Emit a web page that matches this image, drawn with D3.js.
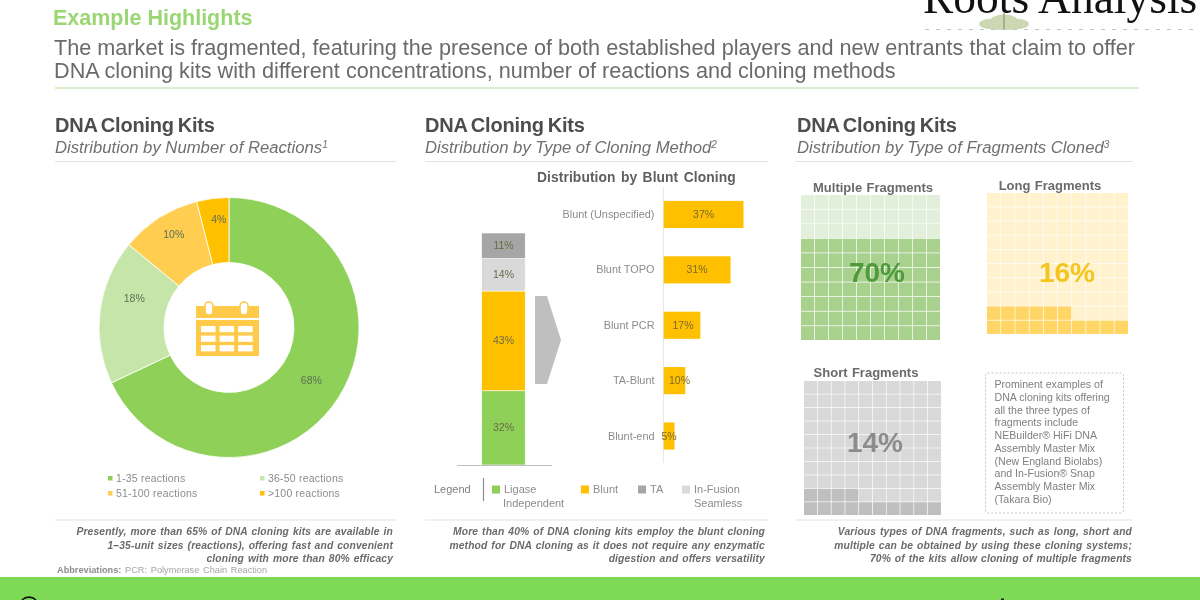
<!DOCTYPE html>
<html><head><meta charset="utf-8">
<script src="https://cdn.jsdelivr.net/npm/d3@7"></script>
<style>
html,body{margin:0;padding:0;background:#fff;overflow:hidden}
svg{display:block;filter:blur(0.55px);font-family:"Liberation Sans",Arial,sans-serif}
</style></head><body>
<svg id="c" width="1200" height="600"></svg>
<script>
// ---- data ----
const reactionCategories = ["1-35 reactions","36-50 reactions","51-100 reactions",">100 reactions"];
const reactionValues = [68,18,10,4];
const methodCategories = ["Ligase Independent","Blunt","In-Fusion Seamless","TA"];
const methodValues = [32,43,14,11];
const bluntCategories = ["Blunt (Unspecified)","Blunt TOPO","Blunt PCR","TA-Blunt","Blunt-end"];
const bluntValues = [37,31,17,10,5];
const fragmentCategories = ["Multiple Fragments","Long Fragments","Short Fragments"];
const fragmentValues = [70,16,14];
const headlineLines = ["The market is fragmented, featuring the presence of both established players and new entrants that claim to offer","DNA cloning kits with different concentrations, number of reactions and cloning methods"];
const panelSubtitles = ["Distribution by Number of Reactions","Distribution by Type of Cloning Method","Distribution by Type of Fragments Cloned"];
const noteLines = [
 ["Presently, more than 65% of DNA cloning kits are available in","1–35-unit sizes (reactions), offering fast and convenient","cloning with more than 80% efficacy"],
 ["More than 40% of DNA cloning kits employ the blunt cloning","method for DNA cloning as it does not require any enzymatic","digestion and offers versatility"],
 ["Various types of DNA fragments, such as long, short and","multiple can be obtained by using these cloning systems;","70% of the kits allow cloning of multiple fragments"]];
const boxLines = ["Prominent examples of","DNA cloning kits offering","all the three types of","fragments include","NEBuilder® HiFi DNA","Assembly Master Mix","(New England Biolabs)","and In-Fusion® Snap","Assembly Master Mix","(Takara Bio)"];

// ---- styles ----
const reactionColors = ["#8fd158","#c6e6a9","#ffcd4f","#ffc000"];
const methodColors = ["#8fd158","#ffc000","#d9d9d9","#a6a6a6"];
const TXT="#595959";

const svg = d3.select("#c");
function text(s,x,y,o={}){
  const t = svg.append("text").attr("x",x).attr("y",y).text(s)
    .attr("font-size",o.size||11).attr("fill",o.fill||TXT)
    .attr("font-weight",o.weight||null).attr("font-style",o.style||null)
    .attr("text-anchor",o.anchor||"start");
  if(o.family) t.attr("font-family",o.family);
  if(o.ws!=null) t.attr("word-spacing",o.ws);
  if(o.ls!=null) t.attr("letter-spacing",o.ls);
  return t;
}
function rule(x1,x2,y,c,w){svg.append("line").attr("x1",x1).attr("x2",x2).attr("y1",y).attr("y2",y).attr("stroke",c).attr("stroke-width",w||1.2);}

// ---- header ----
text("Example Highlights",53,24.5,{size:21.5,weight:"bold",fill:"#9ad673"});
headlineLines.forEach((l,i)=>text(l,54,55+i*23,{size:21.65,fill:"#6a6a6a"}));
rule(55,1139,88,"#cfeabd",1.6);

// logo
text("Roots Analysis",923,13,{size:45.5,family:"Liberation Serif",fill:"#111"});
[[990,24,11,5],[1004,21,14,6.5],[1018,24,11,5],[1004,26,22,4]].forEach(e=>
  svg.append("ellipse").attr("cx",e[0]).attr("cy",e[1]).attr("rx",e[2]).attr("ry",e[3]).attr("fill","#cdd8b2"));
svg.append("line").attr("x1",1004).attr("x2",1004).attr("y1",13).attr("y2",30).attr("stroke","#7f8b5f");
svg.append("line").attr("x1",925).attr("x2",1200).attr("y1",29.5).attr("y2",29.5).attr("stroke","#c4c4c4").attr("stroke-dasharray","4 7");

// panel heads
const panelX=[55,425,797], ruleSpan=[[55,396],[425,768],[795,1133]], sups=["1","2","3"];
panelX.forEach((x,i)=>{
  text("DNA Cloning Kits",x,132,{size:20,weight:"bold",fill:"#4d4d4d",ls:-0.2,ws:-1.5});
  const t=text(panelSubtitles[i],x,153,{size:16.7,style:"italic",fill:"#6f6f6f"});
  t.append("tspan").attr("dy",-5).attr("font-size",10).text(sups[i]);
  rule(ruleSpan[i][0],ruleSpan[i][1],161.5,"#e3e3e3");
  rule(ruleSpan[i][0],ruleSpan[i][1],520,"#e3e3e3");
  noteLines[i].forEach((l,j)=>text(l,[393,765,1132][i],535+j*13.7,{size:10.3,weight:"bold",style:"italic",anchor:"end",fill:"#6a6a6a",ls:0.14,ws:0.9}));
});
const ab=text("Abbreviations:",57,573,{size:9.2,weight:"bold",fill:"#8c8c8c"});
ab.append("tspan").attr("font-weight","normal").attr("fill","#a6a6a6").attr("word-spacing",1.2).text(" PCR: Polymerase Chain Reaction");

// ---- donut ----
const cx=229,cy=327.5,R=130,r=65;
const pie=d3.pie().sort(null)(reactionValues);
const arc=d3.arc().innerRadius(r).outerRadius(R);
const donut=svg.append("g").attr("transform",`translate(${cx},${cy})`);
donut.selectAll("path").data(pie).join("path").attr("d",arc)
  .attr("fill",(d,i)=>reactionColors[i]).attr("stroke","#fff").attr("stroke-width",0.8);
const donutNudge=[[0,1],[2,-17],[-3,-11],[2,-11]];
donut.selectAll("text").data(pie).join("text")
  .attr("x",(d,i)=>arc.centroid(d)[0]+donutNudge[i][0])
  .attr("y",(d,i)=>arc.centroid(d)[1]+donutNudge[i][1]+3.5)
  .attr("text-anchor","middle").attr("font-size",10.5).attr("fill","#5f6f55")
  .text(d=>d.value+"%");

// calendar icon
const ICON="#ffc94a";
const icon=svg.append("g").attr("fill",ICON);
icon.append("rect").attr("x",196).attr("y",306).attr("width",63).attr("height",12);
icon.append("rect").attr("x",196).attr("y",320).attr("width",63).attr("height",36);
[209,244].forEach(x=>{
  icon.append("rect").attr("x",x-4).attr("y",302).attr("width",8).attr("height",13).attr("rx",4).attr("fill","#fff").attr("stroke",ICON).attr("stroke-width",1.6);
});
d3.range(3).forEach(row=>d3.range(3).forEach(col=>{
  icon.append("rect").attr("x",201+col*18.6).attr("y",326+row*9.6).attr("width",14.5).attr("height",6.2).attr("fill","#fff");
}));

// donut legend
const legX=[110,262], legY=[478,493];
reactionCategories.forEach((c,i)=>{
  const x=legX[i%2], y=legY[i>>1];
  svg.append("rect").attr("x",x-2).attr("y",y-2).attr("width",4.5).attr("height",4.5).attr("fill",reactionColors[i]);
  text(c,x+6,y+3.5,{size:10.5,fill:"#8c8c8c",ls:0.2});
});

// ---- stacked bar ----
const yStack=d3.scaleLinear().domain([0,100]).range([465,233]);
let acc=0;
const stackRows=methodValues.map((v,i)=>{const o={v,i,y0:acc,y1:acc+v};acc+=v;return o;});
const stack=svg.append("g");
stack.selectAll("rect").data(stackRows).join("rect")
  .attr("x",481.7).attr("width",43.5)
  .attr("y",d=>yStack(d.y1)).attr("height",d=>yStack(d.y0)-yStack(d.y1))
  .attr("fill",d=>methodColors[d.i]).attr("stroke","#fff").attr("stroke-width",0.6);
stack.selectAll("text").data(stackRows).join("text")
  .attr("x",503.5).attr("y",d=>yStack((d.y0+d.y1)/2)+3.5).attr("text-anchor","middle")
  .attr("font-size",10.5).attr("fill","#6a6a4a").text(d=>d.v+"%");
rule(457,552,465.5,"#bfbfbf",1);
svg.append("polygon").attr("points","535,296 547,296 561,340 547,384 535,384").attr("fill","#bfbfbf");

// ---- blunt bars ----
text("Distribution by Blunt Cloning",537,182,{size:13.8,weight:"bold",fill:"#5f5f5f",ws:1.4,ls:0.1});
const xBar=d3.scaleLinear().domain([0,37]).range([663.7,743.5]);
const yBar=d3.scaleBand().domain(bluntCategories).range([186.5,464]).paddingInner(0.51).paddingOuter(0.26);
svg.append("line").attr("x1",663.4).attr("x2",663.4).attr("y1",187).attr("y2",463).attr("stroke","#e6e6e6");
const bars=svg.append("g");
bars.selectAll("rect").data(bluntValues).join("rect")
  .attr("x",xBar(0)).attr("y",(d,i)=>yBar(bluntCategories[i]))
  .attr("width",d=>xBar(d)-xBar(0)).attr("height",yBar.bandwidth()).attr("fill","#ffc000");
const barNudge=[0,0,1,5,0];
bars.selectAll("text.v").data(bluntValues).join("text").attr("class","v")
  .attr("x",(d,i)=>(xBar(d)+xBar(0))/2+barNudge[i])
  .attr("y",(d,i)=>yBar(bluntCategories[i])+yBar.bandwidth()/2+3.5)
  .attr("text-anchor","middle").attr("font-size",10.5).attr("fill","#7a6a2a").text(d=>d+"%");
bars.selectAll("text.c").data(bluntCategories).join("text").attr("class","c")
  .attr("x",654.5).attr("y",d=>yBar(d)+yBar.bandwidth()/2+3.5)
  .attr("text-anchor","end").attr("font-size",10.9).attr("fill","#8c8c8c").text(d=>d);

// panel-2 legend
text("Legend",434,493,{size:11,fill:"#7f7f7f"});
svg.append("line").attr("x1",483.5).attr("x2",483.5).attr("y1",478).attr("y2",501).attr("stroke","#8c8c8c").attr("stroke-width",1.2);
const m2=[{i:0,x:492,tx:504,l:["Ligase","Independent"],ex:503},{i:1,x:581,tx:593,l:["Blunt"]},{i:3,x:638,tx:650,l:["TA"]},{i:2,x:682,tx:694,l:["In-Fusion","Seamless"],ex:694}];
m2.forEach(m=>{
  svg.append("rect").attr("x",m.x).attr("y",485.5).attr("width",8).attr("height",8).attr("fill",methodColors[m.i]);
  text(m.l[0],m.tx,493,{size:11,fill:"#8c8c8c"});
  if(m.l[1]) text(m.l[1],m.ex,507,{size:11,fill:"#8c8c8c"});
});

// ---- waffles ----
const waffleBoxes=[
 {x0:801,x1:940,y0:195,y1:340,dark:"#a9d18e",light:"#e2efda",num:"#4f9a3c",tx:873,ty:191.5,lx:877,ly:282},
 {x0:987,x1:1128,y0:193,y1:334,dark:"#ffd566",light:"#fff2cc",num:"#f5c51f",tx:1050,ty:189.5,lx:1067,ly:282},
 {x0:804,x1:941,y0:381,y1:515,dark:"#bfbfbf",light:"#d9d9d9",num:"#8c8c8c",tx:866,ty:376.5,lx:875,ly:452}];
fragmentValues.forEach((v,k)=>{
  const b=waffleBoxes[k];
  const gx=d3.scaleBand().domain(d3.range(10)).range([b.x0,b.x1]).paddingInner(0.05).paddingOuter(0);
  const gy=d3.scaleBand().domain(d3.range(10)).range([b.y1,b.y0]).paddingInner(0.05).paddingOuter(0);
  svg.append("g").selectAll("rect").data(d3.range(100)).join("rect")
    .attr("x",i=>gx(i%10)).attr("y",i=>gy(Math.floor(i/10)))
    .attr("width",gx.bandwidth()).attr("height",gy.bandwidth())
    .attr("fill",i=>i<v?b.dark:b.light);
  text(fragmentCategories[k],b.tx,b.ty,{size:13,weight:"bold",anchor:"middle",fill:"#6a6a6a",ws:0.8});
  text(v+"%",b.lx,b.ly,{size:28,weight:"bold",anchor:"middle",fill:b.num});
});

// example box
svg.append("rect").attr("x",985.5).attr("y",373).attr("width",138).attr("height",140).attr("rx",2)
  .attr("fill","none").attr("stroke","#c4c4c4").attr("stroke-dasharray","2 2");
boxLines.forEach((l,i)=>text(l,994.5,388+i*12.75,{size:10.6,fill:"#7f7f7f"}));

// ---- footer ----
svg.append("rect").attr("x",0).attr("y",577).attr("width",1200).attr("height",23).attr("fill","#7ed957");
svg.append("path").attr("d","M22 600 A10 10 0 0 1 36 600").attr("fill","none").attr("stroke","#111").attr("stroke-width",1.6);
svg.append("rect").attr("x",1001).attr("y",598.5).attr("width",3).attr("height",1.5).attr("fill","#222");
</script>
</body></html>
